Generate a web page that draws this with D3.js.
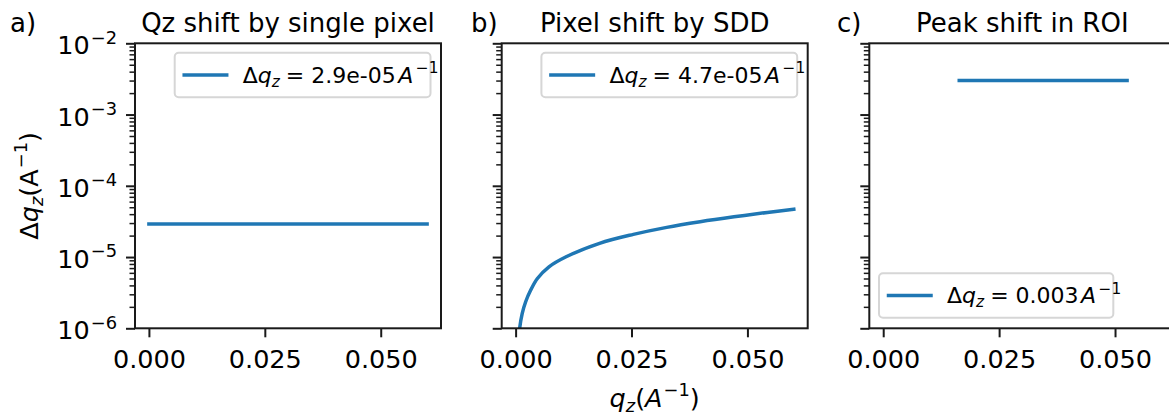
<!DOCTYPE html>
<html>
<head>
<meta charset="utf-8">
<script src="https://cdn.jsdelivr.net/npm/d3@7"></script>
<style>
  html, body { margin: 0; padding: 0; background: #ffffff; }
  svg { display: block; }
  text { font-family: "DejaVu Sans", sans-serif; fill: #000; }
</style>
</head>
<body>
<svg id="chart" width="1169" height="419"></svg>
<script>
// ---------------- data ----------------
const panelTitles = ["Qz shift by single pixel", "Pixel shift by SDD", "Peak shift in ROI"];
const panelLabels = ["a)", "b)", "c)"];
const legendValues = ["2.9e-05", "4.7e-05", "0.003"];

const qzA = [0, 0.06];
const dqA = [2.9e-5, 2.9e-5];

const qzB = [0.0005, 0.00087, 0.00143, 0.00217, 0.00326, 0.0047, 0.0072, 0.0109, 0.0181,
             0.0254, 0.0326, 0.0398, 0.0471, 0.0543, 0.0600];
const dqB = [5.2e-7, 1.0e-6, 1.62e-6, 2.36e-6, 3.44e-6, 5.0e-6, 7.3e-6, 1.01e-5, 1.56e-5,
             2.08e-5, 2.61e-5, 3.13e-5, 3.67e-5, 4.23e-5, 4.70e-5];

const qzC = [0.0164, 0.0526];
const dqC = [0.003, 0.003];

const xTicks = [0, 0.025, 0.05];
const xTickLabels = ["0.000", "0.025", "0.050"];
const yTicks = [1e-6, 1e-5, 1e-4, 1e-3, 1e-2];
const yTickExponents = ["−6", "−5", "−4", "−3", "−2"];
const xDomain = [-0.003, 0.063];
const yDomain = [1e-6, 1e-2];

// ---------------- layout ----------------
const svg = d3.select("#chart");
const lefts = [135, 501.7, 869.3];
const W = 306, axTop = 43.3, axBottom = 328.3;
const blue = "#1f77b4";
const axisColor = "#1a1a1a";
const tickFont = 25.5, titleFont = 26, legendFont = 22;

function mathText(sel, parts, size) {
  let shift = 0;
  parts.forEach(p => {
    const ts = sel.append("tspan").text(p.t);
    let target = 0, fs = size;
    if (p.sub) { target = 0.2 * size; fs = 0.7 * size; }
    if (p.sup) { target = -0.42 * size; fs = 0.7 * size; }
    ts.attr("font-size", fs)
      .attr("dy", target - shift)
      .attr("font-style", p.i ? "italic" : "normal");
    if (p.dx) ts.attr("dx", p.dx);
    shift = target;
  });
}

const seriesQ = [qzA, qzB, qzC];
const seriesD = [dqA, dqB, dqC];

const defs = svg.append("defs");

lefts.forEach((L, i) => {
  const x = d3.scaleLinear().domain(xDomain).range([L, L + W]);
  const y = d3.scaleLog().domain(yDomain).range([axBottom, axTop]);

  defs.append("clipPath").attr("id", "clip" + i)
    .append("rect").attr("x", L).attr("y", axTop).attr("width", W).attr("height", axBottom - axTop);

  const g = svg.append("g");

  // data line
  const data = seriesQ[i].map((q, k) => [q, seriesD[i][k]]);
  const line = d3.line().x(d => x(d[0])).y(d => y(d[1])).curve(d3.curveCatmullRom.alpha(0.5));
  g.append("path")
    .attr("clip-path", "url(#clip" + i + ")")
    .attr("d", line(data))
    .attr("fill", "none")
    .attr("stroke", blue)
    .attr("stroke-width", 3.5)
    .attr("stroke-linecap", "square");

  // x axis
  const xAxis = d3.axisBottom(x).tickValues(xTicks).tickSize(9).tickPadding(0)
    .tickFormat(() => "");
  const xg = g.append("g").attr("transform", `translate(0,${axBottom})`).call(xAxis);
  xg.select(".domain").remove();
  xg.selectAll(".tick line").attr("stroke", axisColor).attr("stroke-width", 2);
  xg.selectAll(".tick").append("text")
    .attr("y", 40).attr("text-anchor", "middle")
    .attr("font-size", tickFont)
    .text((d, k) => xTickLabels[k]);

  // y axis (major + minor)
  const minor = [];
  for (let e = -6; e < -2; e++) for (let m = 2; m <= 9; m++) minor.push(m * Math.pow(10, e));
  const yMinor = d3.axisLeft(y).tickValues(minor).tickSize(5.5).tickFormat("");
  const ymg = g.append("g").attr("transform", `translate(${L},0)`).call(yMinor);
  ymg.select(".domain").remove();
  ymg.selectAll(".tick line").attr("stroke", axisColor).attr("stroke-width", 1.5);

  const yMajor = d3.axisLeft(y).tickValues(yTicks).tickSize(9).tickFormat("");
  const yg = g.append("g").attr("transform", `translate(${L},0)`).call(yMajor);
  yg.select(".domain").remove();
  yg.selectAll(".tick line").attr("stroke", axisColor).attr("stroke-width", 2);
  if (i === 0) {
    yg.selectAll(".tick").each(function(d, k) {
      const t = d3.select(this).append("text")
        .attr("x", -18).attr("y", 10.5)
        .attr("text-anchor", "end")
        .attr("font-size", tickFont);
      mathText(t, [{ t: "10" }, { t: yTickExponents[k], sup: 1, dx: 1 }], tickFont);
    });
  }

  // frame
  g.append("rect")
    .attr("x", L).attr("y", axTop).attr("width", W).attr("height", axBottom - axTop)
    .attr("fill", "none").attr("stroke", axisColor).attr("stroke-width", 2);

  // title
  svg.append("text")
    .attr("x", L + W / 2).attr("y", 32)
    .attr("text-anchor", "middle")
    .attr("font-size", titleFont)
    .text(panelTitles[i]);

  // legend
  const lg = svg.append("g");
  const box = lg.append("rect")
    .attr("rx", 4).attr("ry", 4)
    .attr("fill", "#ffffff").attr("fill-opacity", 0.8)
    .attr("stroke", "#d6d6d6").attr("stroke-width", 2);
  const hLine = lg.append("line")
    .attr("stroke", blue).attr("stroke-width", 3.5).attr("stroke-linecap", "square");
  const lt = lg.append("text").attr("font-size", legendFont);
  mathText(lt, [
    { t: "Δ" }, { t: "q", i: 1 }, { t: "z", i: 1, sub: 1 },
    { t: "=", dx: 6 }, { t: legendValues[i], dx: 7 },
    { t: "A", i: 1, dx: 2.5 }, { t: "−1", sup: 1, dx: 2.5 }
  ], legendFont);
  const tw = lt.node().getComputedTextLength();
  const bw = 68 + tw + 10, bh = 44.5;
  let bx, by;
  if (i < 2) { bx = L + W - 10.5 - bw; by = axTop + 9.5; }
  else { bx = L + 9.7; by = axBottom - 10.5 - bh; }
  box.attr("x", bx).attr("y", by).attr("width", bw).attr("height", bh);
  hLine.attr("x1", bx + 9.5).attr("x2", bx + 52).attr("y1", by + bh / 2).attr("y2", by + bh / 2);
  lt.attr("x", bx + 68).attr("y", by + bh / 2 + 7.5);
});

// panel labels
const labelX = [10, 471, 837];
panelLabels.forEach((t, i) => {
  svg.append("text").attr("x", labelX[i]).attr("y", 32)
    .attr("font-size", titleFont).text(t);
});

// y label
const yl = svg.append("text")
  .attr("transform", `translate(38,${(axTop + axBottom) / 2}) rotate(-90)`)
  .attr("text-anchor", "middle")
  .attr("font-size", tickFont);
mathText(yl, [
  { t: "Δ" }, { t: "q", i: 1 }, { t: "z", i: 1, sub: 1 },
  { t: "(A" }, { t: "−1", sup: 1, dx: 1 }, { t: ")" }
], tickFont);

// x label
const xl = svg.append("text")
  .attr("x", lefts[1] + W / 2).attr("y", 407)
  .attr("text-anchor", "middle")
  .attr("font-size", tickFont);
mathText(xl, [
  { t: "q", i: 1 }, { t: "z", i: 1, sub: 1 },
  { t: "(" }, { t: "A", i: 1 }, { t: "−1", sup: 1, dx: 1 }, { t: ")" }
], tickFont);
</script>
</body>
</html>
